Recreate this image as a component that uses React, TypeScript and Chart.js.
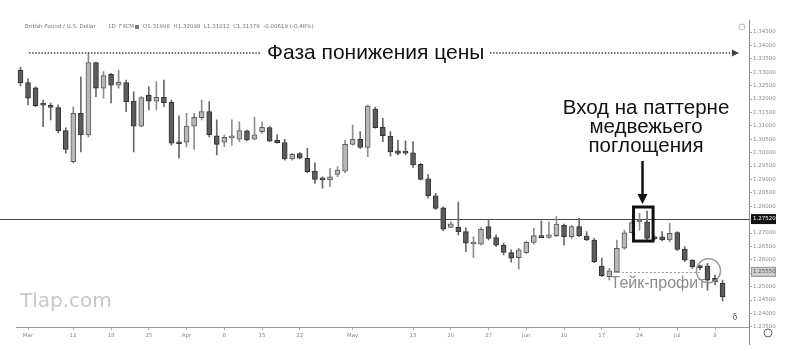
import { useEffect, useRef } from "react";
import { Chart, registerables } from "chart.js";
Chart.register(...registerables);

// GBP/USD daily candles, 28 Feb 2019 .. 9 Jul 2019
const opens = [
  1.3308, 1.3261, 1.3242, 1.3178, 1.3175, 1.3168, 1.3082, 1.2966, 1.3147, 1.3066,
  1.3336, 1.3240, 1.3292, 1.3252, 1.3261, 1.3192, 1.3099, 1.3215, 1.3192, 1.3206,
  1.3188, 1.3035, 1.3039, 1.3099, 1.3130, 1.3153, 1.3063, 1.3039, 1.3055, 1.3050,
  1.3081, 1.3050, 1.3078, 1.3093, 1.3047, 1.3037, 1.2976, 1.2996, 1.2979, 1.2931,
  1.2902, 1.2898, 1.2919, 1.2931, 1.3031, 1.3050, 1.3019, 1.3162, 1.3094, 1.3062,
  1.3007, 1.2999, 1.2999, 1.2956, 1.2902, 1.2839, 1.2794, 1.2721, 1.2721, 1.2705,
  1.2659, 1.2658, 1.2724, 1.2683, 1.2655, 1.2627, 1.2608, 1.2627, 1.2665, 1.2690,
  1.2684, 1.2690, 1.2730, 1.2686, 1.2724, 1.2689, 1.2674, 1.2577, 1.2537, 1.2555,
  1.2643, 1.2701, 1.2741, 1.2742, 1.2683, 1.2686, 1.2674, 1.2702, 1.2640, 1.2599,
  1.2578, 1.2577, 1.2531, 1.2512,
];
const highs = [
  1.3319, 1.3275, 1.3245, 1.3196, 1.3185, 1.3178, 1.3092, 1.3171, 1.3283, 1.3372,
  1.3338, 1.3302, 1.3296, 1.3308, 1.3271, 1.3227, 1.3209, 1.3246, 1.3265, 1.3271,
  1.3196, 1.3137, 1.3147, 1.3147, 1.3196, 1.3190, 1.3122, 1.3066, 1.3122, 1.3115,
  1.3084, 1.3132, 1.3115, 1.3097, 1.3066, 1.3050, 1.2997, 1.3000, 1.3016, 1.2962,
  1.2910, 1.2941, 1.2948, 1.3047, 1.3103, 1.3078, 1.3178, 1.3170, 1.3128, 1.3078,
  1.3047, 1.3044, 1.3041, 1.2960, 1.2919, 1.2848, 1.2798, 1.2742, 1.2815, 1.2720,
  1.2686, 1.2720, 1.2751, 1.2693, 1.2662, 1.2637, 1.2643, 1.2670, 1.2718, 1.2745,
  1.2742, 1.2761, 1.2733, 1.2730, 1.2755, 1.2705, 1.2680, 1.2606, 1.2568, 1.2674,
  1.2711, 1.2746, 1.2773, 1.2782, 1.2689, 1.2705, 1.2736, 1.2705, 1.2649, 1.2601,
  1.2580, 1.2587, 1.2543, 1.2524,
];
const lows = [
  1.3249, 1.3178, 1.3171, 1.3097, 1.3122, 1.3073, 1.2998, 1.2961, 1.3003, 1.3059,
  1.3209, 1.3203, 1.3185, 1.3240, 1.3153, 1.3003, 1.3097, 1.3159, 1.3159, 1.3171,
  1.3028, 1.2979, 1.3022, 1.3012, 1.3122, 1.3059, 1.2991, 1.3022, 1.3028, 1.3041,
  1.3044, 1.3047, 1.3072, 1.3041, 1.3035, 1.2972, 1.2972, 1.2976, 1.2925, 1.2885,
  1.2867, 1.2873, 1.2910, 1.2925, 1.3028, 1.3016, 1.2985, 1.3091, 1.3041, 1.2987,
  1.2991, 1.2991, 1.2945, 1.2898, 1.2830, 1.2788, 1.2709, 1.2720, 1.2693, 1.2630,
  1.2608, 1.2655, 1.2674, 1.2649, 1.2618, 1.2591, 1.2565, 1.2624, 1.2658, 1.2683,
  1.2680, 1.2686, 1.2655, 1.2680, 1.2686, 1.2671, 1.2589, 1.2537, 1.2525, 1.2552,
  1.2639, 1.2699, 1.2711, 1.2674, 1.2674, 1.2671, 1.2667, 1.2634, 1.2593, 1.2568,
  1.2562, 1.2487, 1.2506, 1.2447,
];
const closes = [
  1.3260, 1.3203, 1.3175, 1.3177, 1.3169, 1.3082, 1.3012, 1.3147, 1.3066, 1.3336,
  1.3240, 1.3287, 1.3252, 1.3262, 1.3190, 1.3099, 1.3205, 1.3192, 1.3206, 1.3186,
  1.3035, 1.3033, 1.3099, 1.3132, 1.3153, 1.3066, 1.3031, 1.3057, 1.3057, 1.3082,
  1.3047, 1.3066, 1.3094, 1.3043, 1.3037, 1.2976, 1.2994, 1.2979, 1.2929, 1.2900,
  1.2898, 1.2910, 1.2935, 1.3031, 1.3050, 1.3019, 1.3174, 1.3093, 1.3063, 1.3003,
  1.2997, 1.2998, 1.2954, 1.2900, 1.2838, 1.2792, 1.2714, 1.2734, 1.2705, 1.2662,
  1.2660, 1.2714, 1.2680, 1.2655, 1.2628, 1.2606, 1.2637, 1.2665, 1.2690, 1.2683,
  1.2693, 1.2733, 1.2686, 1.2724, 1.2689, 1.2674, 1.2593, 1.2541, 1.2559, 1.2643,
  1.2701, 1.2739, 1.2743, 1.2680, 1.2678, 1.2674, 1.2699, 1.2639, 1.2599, 1.2574,
  1.2571, 1.2524, 1.2518, 1.2462,
];

// time-axis labels: [candle index, text]
const timeTicks: [number, string][] = [
  [1, "Mar"], [7, "11"], [12, "18"], [17, "25"], [22, "Apr"], [27, "8"],
  [32, "15"], [37, "22"], [44, "May"], [52, "13"], [57, "20"], [62, "27"],
  [67, "Jun"], [72, "10"], [77, "17"], [82, "24"], [87, "Jul"], [92, "8"],
];
const priceTicks = [
  1.345, 1.34, 1.335, 1.33, 1.325, 1.32, 1.315, 1.31, 1.305, 1.3, 1.295, 1.29,
  1.285, 1.28, 1.275, 1.27, 1.265, 1.26, 1.255, 1.25, 1.245, 1.24, 1.235,
];
const entryLevel = 1.2752;
const takeProfitLevel = 1.2555;
const EMPTY_SLOTS = 3;

const FONT = 'Arial, "Liberation Sans", sans-serif';

function buildDates(): string[] {
  const out: string[] = [];
  const d = new Date(Date.UTC(2019, 1, 28));
  while (out.length < opens.length) {
    const wd = d.getUTCDay();
    if (wd !== 0 && wd !== 6) out.push(d.toISOString().slice(0, 10));
    d.setUTCDate(d.getUTCDate() + 1);
  }
  for (let i = 0; i < EMPTY_SLOTS; i++) out.push("");
  return out;
}

export default function App() {
  const ref = useRef<HTMLCanvasElement>(null);

  useEffect(() => {
    document.body.style.margin = "0";
    const canvas = ref.current;
    if (!canvas) return;
    const labels = buildDates();
    const tickMap = new Map<number, string>(timeTicks);
    const isBull = opens.map((o, i) => closes[i] >= o);

    const annotations = {
      id: "annotations",
      beforeDatasetsDraw(chart: any) {
        const { ctx } = chart;
        const ys = chart.scales.y;
        const y = Math.round(ys.getPixelForValue(entryLevel)) + 0.5;
        ctx.save();
        ctx.strokeStyle = "#4a4a4a";
        ctx.lineWidth = 1;
        ctx.beginPath();
        ctx.moveTo(0, y);
        ctx.lineTo(chart.chartArea.right, y);
        ctx.stroke();
        ctx.restore();
      },
      afterDraw(chart: any) {
        const { ctx, chartArea } = chart;
        const xs = chart.scales.x;
        const ys = chart.scales.y;
        ctx.save();

        // header
        ctx.fillStyle = "#777";
        ctx.font = '5.5px "DejaVu Sans"';
        ctx.textBaseline = "middle";
        ctx.textAlign = "left";
        ctx.fillText("British Pound / U.S. Dollar", 25, 27);
        ctx.fillText("1D", 108, 27);
        ctx.fillText("FXCM", 119, 27);
        ctx.fillRect(135, 25, 4, 4);
        ctx.fillText("O1.31998  H1.32098  L1.31012  C1.31379  -0.00619 (-0.48%)", 143, 27);

        // top clock icon
        ctx.strokeStyle = "#bbb";
        ctx.lineWidth = 1;
        ctx.beginPath();
        ctx.arc(742, 27, 3, 0, Math.PI * 2);
        ctx.stroke();

        // phase dotted line + title
        ctx.strokeStyle = "#444";
        ctx.lineWidth = 1.5;
        ctx.setLineDash([1.5, 1.6]);
        ctx.beginPath();
        ctx.moveTo(29, 53);
        ctx.lineTo(261, 53);
        ctx.moveTo(490, 53);
        ctx.lineTo(733, 53);
        ctx.stroke();
        ctx.setLineDash([]);
        ctx.fillStyle = "#444";
        ctx.beginPath();
        ctx.moveTo(732, 49.5);
        ctx.lineTo(739, 53);
        ctx.lineTo(732, 56.5);
        ctx.closePath();
        ctx.fill();

        ctx.fillStyle = "#111";
        ctx.font = `21px ${FONT}`;
        ctx.textAlign = "left";
        ctx.fillText("Фаза понижения цены", 267, 53);

        // entry text
        ctx.font = `20.5px ${FONT}`;
        ctx.textAlign = "center";
        ctx.fillText("Вход на паттерне", 646, 108);
        ctx.fillText("медвежьего", 646, 127);
        ctx.fillText("поглощения", 646, 146);

        // arrow down
        ctx.strokeStyle = "#111";
        ctx.lineWidth = 2.5;
        ctx.beginPath();
        ctx.moveTo(642.5, 161);
        ctx.lineTo(642.5, 197);
        ctx.stroke();
        ctx.fillStyle = "#111";
        ctx.beginPath();
        ctx.moveTo(637.5, 194);
        ctx.lineTo(647.5, 194);
        ctx.lineTo(642.5, 204);
        ctx.closePath();
        ctx.fill();

        // box around engulfing pattern
        const bx1 = xs.getPixelForValue(82) - 6;
        const bx2 = xs.getPixelForValue(83) + 6;
        const by1 = ys.getPixelForValue(1.2797);
        const by2 = ys.getPixelForValue(1.2670);
        ctx.lineWidth = 3;
        ctx.strokeStyle = "#111";
        ctx.strokeRect(bx1, by1, bx2 - bx1, by2 - by1);

        // take-profit dashed line
        const tpY = Math.round(ys.getPixelForValue(takeProfitLevel)) + 0.5;
        ctx.strokeStyle = "#9a9a9a";
        ctx.lineWidth = 1;
        ctx.setLineDash([2, 2]);
        ctx.beginPath();
        ctx.moveTo(xs.getPixelForValue(79) - 3, tpY);
        ctx.lineTo(xs.getPixelForValue(90) + 2, tpY);
        ctx.stroke();
        ctx.setLineDash([]);

        ctx.fillStyle = "#8c8c8c";
        ctx.font = `16px ${FONT}`;
        ctx.textAlign = "center";
        ctx.fillText("Тейк-профит", 658, 284);

        // circle around exit candle
        ctx.strokeStyle = "#9a9a9a";
        ctx.lineWidth = 1.5;
        ctx.beginPath();
        ctx.arc(xs.getPixelForValue(91) + 1, ys.getPixelForValue(1.2559), 12, 0, Math.PI * 2);
        ctx.stroke();

        // watermark
        ctx.fillStyle = "#c8c8c8";
        ctx.font = '20px "DejaVu Sans"';
        ctx.textAlign = "left";
        ctx.fillText("Tlap.com", 20, 302);

        // small icons
        ctx.fillStyle = "#666";
        ctx.font = '8px "DejaVu Sans"';
        ctx.textAlign = "center";
        ctx.fillText("δ", 735, 318);
        ctx.strokeStyle = "#666";
        ctx.lineWidth = 1;
        ctx.beginPath();
        ctx.arc(768, 333, 4, 0, Math.PI * 2);
        ctx.stroke();

        // price axis line
        ctx.strokeStyle = "#888";
        ctx.beginPath();
        ctx.moveTo(chartArea.right + 0.5, 20);
        ctx.lineTo(chartArea.right + 0.5, 345);
        ctx.stroke();

        // price labels of the two levels
        ctx.font = '5.5px "DejaVu Sans"';
        ctx.textAlign = "left";
        const ey = ys.getPixelForValue(entryLevel);
        ctx.fillStyle = "#111";
        ctx.fillRect(751, ey - 5, 25, 10);
        ctx.fillStyle = "#fff";
        ctx.fillText(entryLevel.toFixed(5), 753, ey);
        const ty = ys.getPixelForValue(takeProfitLevel);
        ctx.fillStyle = "#cfcfcf";
        ctx.fillRect(751, ty - 5, 25, 10);
        ctx.strokeStyle = "#999";
        ctx.strokeRect(751.5, ty - 4.5, 24, 9);
        ctx.fillStyle = "#555";
        ctx.fillText(takeProfitLevel.toFixed(5), 753, ty);

        ctx.restore();
      },
    };

    const chart = new Chart(canvas, {
      type: "bar",
      data: {
        labels,
        datasets: [
          {
            label: "body",
            data: opens.map((o, i) => [o, closes[i]]) as any,
            backgroundColor: isBull.map((b) => (b ? "#b8b8b8" : "#5c5c5c")),
            borderColor: isBull.map((b) => (b ? "#5a5a5a" : "#333333")),
            borderWidth: 1,
            borderSkipped: false,
            barThickness: 5,
            minBarLength: 2,
            grouped: false,
            order: 0,
          },
          {
            label: "wick",
            data: lows.map((l, i) => [l, highs[i]]) as any,
            backgroundColor: isBull.map((b) => (b ? "#8e8e8e" : "#6a6a6a")),
            borderWidth: 0,
            barThickness: 1,
            grouped: false,
            order: 1,
          },
        ],
      },
      options: {
        responsive: false,
        animation: false,
        events: [],
        layout: { padding: { left: 16.7, top: 20, right: 0, bottom: 0 } },
        plugins: { legend: { display: false }, tooltip: { enabled: false } },
        scales: {
          x: {
            type: "category",
            offset: true,
            afterFit: (s: any) => {
              s.height = 24;
            },
            grid: {
              offset: false,
              drawOnChartArea: false,
              drawTicks: true,
              tickLength: 3,
              color: (c: any) => (tickMap.has(c.index) ? "#aaa" : "rgba(0,0,0,0)"),
            },
            border: { display: true, color: "#9a9a9a", dash: [2, 2] },
            ticks: {
              autoSkip: false,
              maxRotation: 0,
              padding: 2,
              color: "#888",
              font: { size: 5.5, family: "DejaVu Sans" },
              callback: (_v: any, i: number) => tickMap.get(i) ?? "",
            },
          },
          y: {
            type: "linear",
            position: "right",
            min: 1.23493,
            max: 1.34948,
            afterFit: (s: any) => {
              s.width = 54;
            },
            afterBuildTicks: (s: any) => {
              s.ticks = priceTicks.map((v) => ({ value: v }));
            },
            grid: { drawOnChartArea: false, drawTicks: true, tickLength: 3, color: "#aaa" },
            border: { display: false },
            ticks: {
              padding: 1,
              color: "#888",
              font: { size: 5.5, family: "DejaVu Sans" },
              callback: (v: any) => Number(v).toFixed(5),
            },
          },
        },
      },
      plugins: [annotations],
    });
    return () => chart.destroy();
  }, []);

  return (
    <div style={{ width: 803, height: 351, background: "#fff" }}>
      <canvas ref={ref} width={803} height={351} style={{ width: 803, height: 351, display: "block" }} />
    </div>
  );
}
